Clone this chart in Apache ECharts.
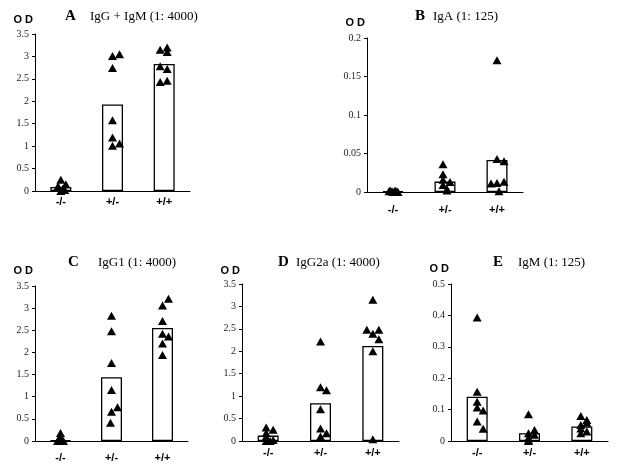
<!DOCTYPE html>
<html><head><meta charset="utf-8">
<script src="https://cdn.jsdelivr.net/npm/echarts@6/dist/echarts.min.js"></script>
<style>html,body{margin:0;padding:0;background:#fff}#c{width:619px;height:468px}</style>
</head><body><div id="c"></div>
<script>
// ---- data ----
const categories = ['-/-', '+/-', '+/+'];
const panelLetters = ['A', 'B', 'C', 'D', 'E'];
const panelTitles = ['IgG + IgM (1: 4000)', 'IgA (1: 125)', 'IgG1 (1: 4000)', 'IgG2a (1: 4000)', 'IgM (1: 125)'];
const yMax = [3.5, 0.2, 3.5, 3.5, 0.5];
const yStep = [0.5, 0.05, 0.5, 0.5, 0.1];

// bar heights (group means)
const barsA = [0.09, 1.93, 2.83];
const barsB = [0.001, 0.0135, 0.0415];
const barsC = [0.02, 1.44, 2.55];
const barsD = [0.12, 0.84, 2.12];
const barsE = [0.141, 0.025, 0.046];

// individual animals per group
const ptsA = [[0.25, 0.15, 0.1, 0.05, 0.08, 0.02, 0.0], [3.01, 3.05, 2.74, 1.58, 1.19, 1.01, 1.06], [3.15, 3.2, 3.1, 2.78, 2.72, 2.43, 2.46]];
const ptsB = [[0.002, 0.001, 0.0, 0.001, 0.002, 0.0, 0.001], [0.036, 0.023, 0.016, 0.013, 0.009, 0.004, 0.002], [0.171, 0.043, 0.040, 0.011, 0.0116, 0.0134, 0.001]];
const ptsC = [[0.18, 0.05, 0.02, 0.01, 0.0, 0.0, 0.0], [2.83, 2.48, 1.76, 1.15, 0.76, 0.66, 0.41], [3.21, 3.06, 2.71, 2.42, 2.36, 2.2, 1.94]];
const ptsD = [[0.3, 0.25, 0.18, 0.1, 0.02, 0.0, 0.0], [2.22, 1.2, 1.13, 0.71, 0.28, 0.17, 0.1], [3.15, 2.48, 2.48, 2.39, 2.27, 2.0, 0.04]];
const ptsE = [[0.393, 0.157, 0.125, 0.107, 0.097, 0.062, 0.039], [0.085, 0.035, 0.025, 0.02, 0.01, 0.003, 0.0], [0.08, 0.067, 0.058, 0.051, 0.04, 0.03, 0.025]];

// ---- layout / style (not data) ----
const jitter = [
  [[0, 5, -3, 2, -2, 4, 0], [0, 7, 0, 0, 0, 0, 7], [-4, 3, 3, -4, 3, -4, 3]],
  [[-3, 4, 0, -1, 2, 5, -4], [-2, -2, -2, 5, -2, 2, 2], [0, 0, 7, -6, 0, 7, 2]],
  [[0, 0, -2, 2, 0, -3, 3], [0, 0, 0, 0, 6, 0, -1], [6, 0, 0, 0, 6, 0, 0]],
  [[-2, 5, -2, -2, 5, -2, 2], [0, 0, 6, 0, 0, 6, 0], [0, -6, 6, 0, 6, 0, 0]],
  [[0, 0, 0, 0, 6, 0, 6], [-1, 5, -1, 5, -1, -1, -1], [-1, 5, 5, -1, -1, 5, -1]]
];
const grids = [
  {left: 35, top: 34, width: 155, height: 157},
  {left: 367, top: 38, width: 156, height: 154},
  {left: 35, top: 286, width: 153, height: 155},
  {left: 242, top: 284, width: 157, height: 157},
  {left: 451, top: 284, width: 157, height: 157}
];
const nameGaps = [9, 10, 10, 8, 10];
const catMargins = [5, 12, 11, 6, 6];
const letterPos = [[60, 4], [410, 4], [63, 250], [273, 250], [488, 250]];
const titlePos = [[85, 5], [428, 5], [93, 251], [291, 251], [513, 251]];

const bars = [barsA, barsB, barsC, barsD, barsE];
const pts = [ptsA, ptsB, ptsC, ptsD, ptsE];

const serif = '"Liberation Serif", "Times New Roman", serif';
const sans = '"Liberation Sans", Arial, sans-serif';

const option = {
  animation: false,
  backgroundColor: '#fff',
  title: [],
  grid: grids,
  xAxis: [], yAxis: [], series: []
};

for (let p = 0; p < 5; p++) {
  option.title.push({left: letterPos[p][0], top: letterPos[p][1], text: panelLetters[p],
    textStyle: {fontFamily: serif, fontWeight: 'bold', fontSize: 15, color: '#000'}});
  option.title.push({left: titlePos[p][0], top: titlePos[p][1], text: panelTitles[p],
    textStyle: {fontFamily: serif, fontWeight: 'normal', fontSize: 13, color: '#000'}});
  option.xAxis.push({
    type: 'category', gridIndex: p, data: categories, boundaryGap: true,
    axisLine: {lineStyle: {color: '#000', width: 1}},
    axisTick: {show: false},
    axisLabel: {fontFamily: sans, fontWeight: 'bold', fontSize: 11, color: '#000', margin: catMargins[p]}
  });
  option.yAxis.push({
    type: 'value', gridIndex: p, min: 0, max: yMax[p], interval: yStep[p],
    name: 'O D', nameLocation: 'end', nameGap: nameGaps[p],
    nameTextStyle: {fontFamily: sans, fontWeight: 'bold', fontSize: 11, color: '#000', align: 'right', padding: [0, 2, 0, 0]},
    splitLine: {show: false},
    axisLine: {show: true, lineStyle: {color: '#000', width: 1}},
    axisTick: {show: true, length: 3, lineStyle: {color: '#000'}},
    axisLabel: {fontFamily: serif, fontSize: 10, color: '#222', margin: 6}
  });
  option.series.push({
    type: 'bar', xAxisIndex: p, yAxisIndex: p, data: bars[p], barWidth: 21, z: 2,
    itemStyle: {color: '#fff', borderColor: '#000', borderWidth: 1.3}
  });
  const sdata = [];
  for (let c = 0; c < 3; c++) {
    pts[p][c].forEach((v, i) => {
      sdata.push({value: [c, v], symbolOffset: [jitter[p][c][i], 0]});
    });
  }
  option.series.push({
    type: 'scatter', xAxisIndex: p, yAxisIndex: p, data: sdata, symbol: 'triangle',
    symbolSize: [9, 8], z: 5, itemStyle: {color: '#000', opacity: 1}
  });
}

const chart = echarts.init(document.getElementById('c'), null, {renderer: 'canvas'});
chart.setOption(option);
</script></body></html>
